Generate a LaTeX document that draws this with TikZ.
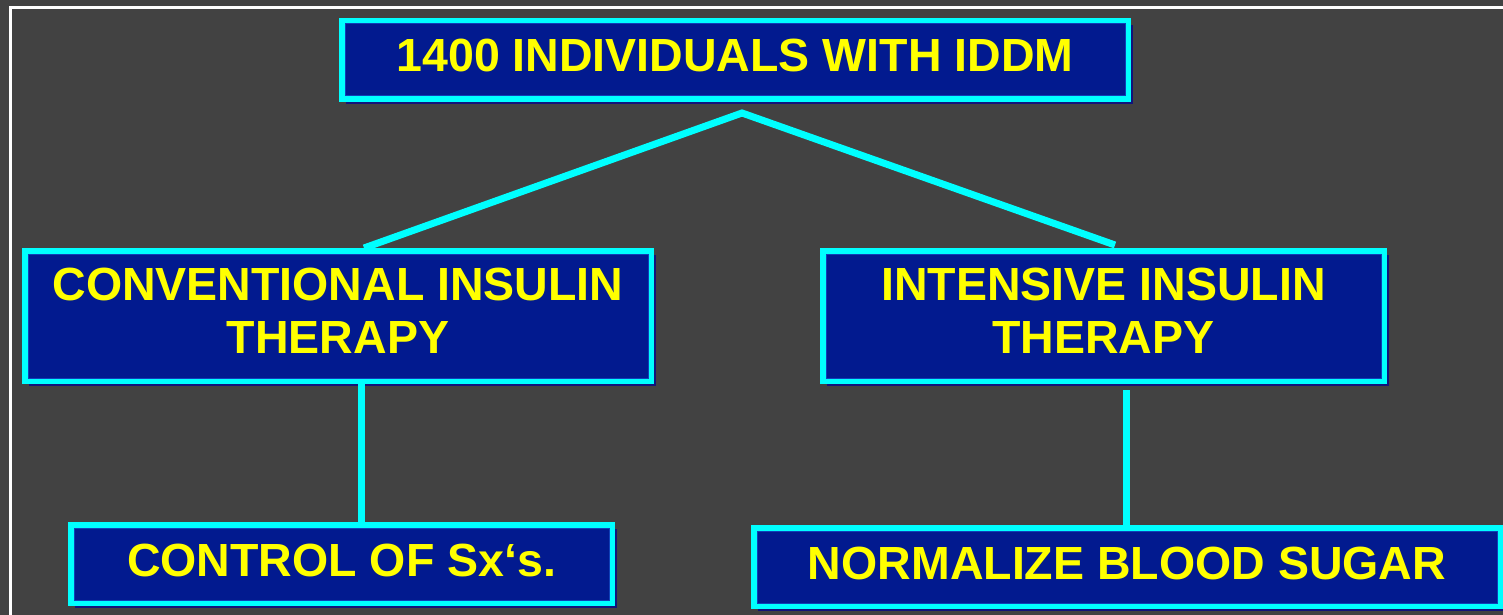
\documentclass[tikz,border=0pt]{standalone}
\usepackage{fontspec}
\setmainfont{Liberation Sans}
\usetikzlibrary{shadows,calc}
\definecolor{bg}{HTML}{424242}
\definecolor{boxfill}{HTML}{021A8F}
\definecolor{boxline}{HTML}{00FFFF}
\definecolor{boxinner}{HTML}{1040B8}
\definecolor{boxshadow}{HTML}{12147A}
\definecolor{txt}{HTML}{FFFF00}
\begin{document}
\begin{tikzpicture}[x=1pt,y=-1pt,
  box/.style={rectangle, fill=boxfill, draw=boxline, line width=5.5pt, outer sep=0pt, inner sep=0pt,
    text=txt, font=\fontsize{46.5}{52.3}\selectfont\bfseries, align=center,
    general shadow={shadow xshift=4.7pt, shadow yshift=-4.7pt, fill=boxshadow},
    path picture={\draw[boxinner, line width=7.5pt] (path picture bounding box.south west) rectangle (path picture bounding box.north east);}},
  oneline/.style={text height=34pt, text depth=10pt},
  twoline/.style={text height=86.3pt, text depth=12pt},
  link/.style={draw=boxline, line width=7pt, line join=miter}]
\fill[bg] (0,0) rectangle (1503,615);
\useasboundingbox (0,0) rectangle (1503,615);
\draw[white, line width=2.4pt] (10.6,615) -- (10.6,7.4) -- (1503,7.4);

\node[box, oneline, minimum width=786.5pt, minimum height=78.5pt] (top) at (735,60) {1400 INDIVIDUALS WITH IDDM};
\node[box, twoline, minimum width=626.5pt, minimum height=130.5pt] (conv) at (338,316) {CONVENTIONAL INSULIN\\THERAPY};
\node[box, twoline, minimum width=561.5pt, minimum height=130.5pt] (int) at (1103.5,316) {INTENSIVE INSULIN\\THERAPY};
\node[box, oneline, minimum width=541.5pt, minimum height=78.5pt] (ctrl) at (341.5,564) {CONTROL OF Sx‘s.};
\node[box, oneline, minimum width=746.5pt, minimum height=78.5pt] (norm) at (1127,567) {NORMALIZE BLOOD SUGAR};

\coordinate (apex) at (742,113);
\coordinate (lend) at (364,248);
\coordinate (rend) at (1115,245);
\draw[link] (lend) -- (apex) -- (rend);
\draw[link] (361,0 |- conv.south) -- (361,0 |- ctrl.north);
\draw[link] (1126,390) -- (1126,0 |- norm.north);
\end{tikzpicture}
\end{document}
